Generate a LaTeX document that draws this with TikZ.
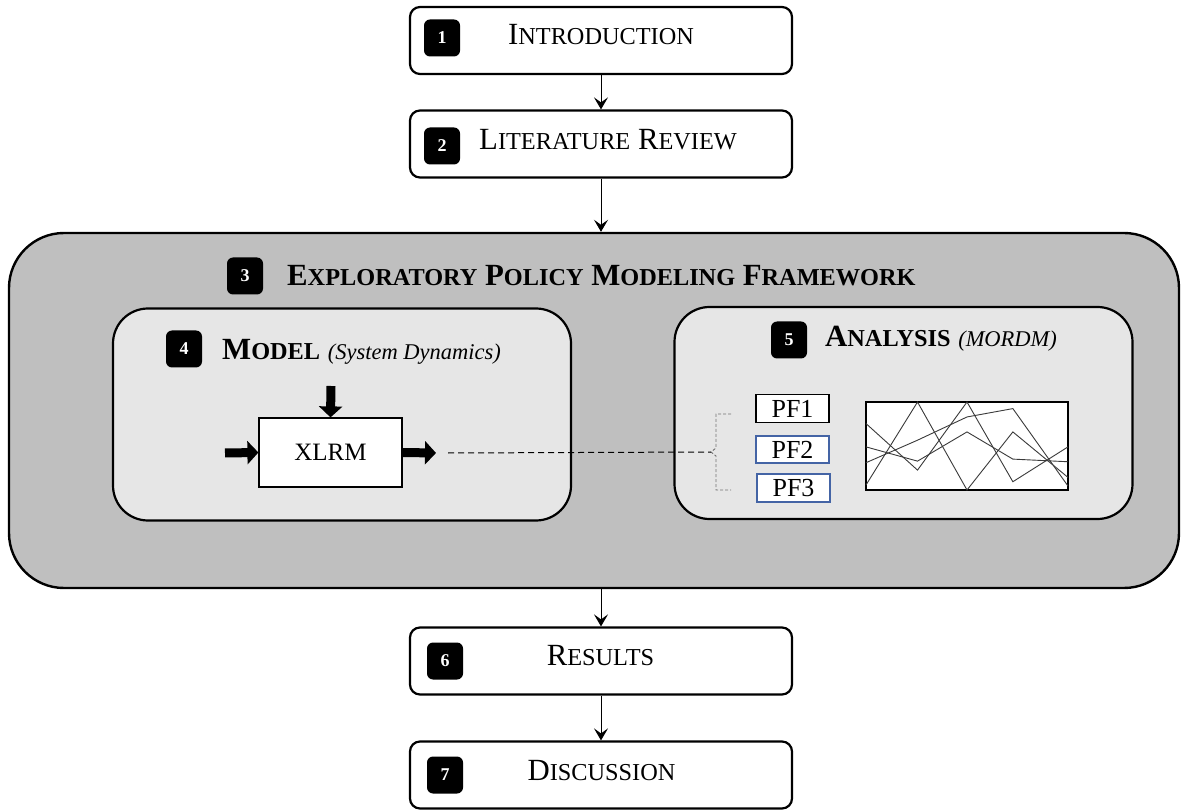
\documentclass[tikz,border=0pt]{standalone}
\usepackage{fontspec}
\setmainfont{Liberation Serif}
\usetikzlibrary{arrows.meta}
\definecolor{framegray}{HTML}{BFBFBF}
\definecolor{panelgray}{HTML}{E6E6E6}
\definecolor{pfblue}{RGB}{68,100,165}
\definecolor{trace}{HTML}{3A3A3A}
% faked small capitals: large initial, smaller upper-case rest
\newcommand\sct[1]{{\fontsize{24.3}{28}\selectfont #1}}
\begin{document}
\begin{tikzpicture}[x=1pt,y=-1pt,
  stage/.style={draw, line width=2.2pt, rounded corners=10pt, fill=white,
    minimum width=382pt, minimum height=67pt, inner sep=0},
  badge/.style={fill=black, rounded corners=6pt, minimum width=36pt,
    minimum height=37pt, inner sep=0, text=white,
    font=\bfseries\fontsize{18}{20}\selectfont},
  heading/.style={inner sep=0, font=\fontsize{30.8}{36}\selectfont},
  panel/.style={draw, line width=2.2pt, rounded corners=35pt, fill=panelgray,
    minimum width=458pt, minimum height=212pt, inner sep=0},
  pfbox/.style={draw, fill=white, minimum width=73pt, minimum height=28pt,
    inner sep=0, font=\fontsize{26}{30}\selectfont},
  flow/.style={line width=1pt, -{Stealth[length=12pt,width=14pt,inset=5pt]}},
  fat/.style={line width=9pt, -{Triangle[length=11pt,width=23pt]}},
]
\useasboundingbox (0,0) rectangle (1187,810);

% ---- stage 1 and 2 ----
\node[stage] (intro) at (601,40.5) {};
\node[badge] (b1) at (442,38) {1};
\node[heading, anchor=base] (t1) at (601,45) {I\sct{NTRODUCTION}};

\node[stage] (lit) at (601,144) {};
\node[badge] (b2) at (442,146) {2};
\node[heading, anchor=base] (t2) at (608,150) {L\sct{ITERATURE} R\sct{EVIEW}};

% ---- framework ----
\node[draw, line width=2.4pt, rounded corners=55pt, fill=framegray,
      minimum width=1170pt, minimum height=355pt, inner sep=0] (frame) at (594,410.5) {};
\node[badge] (b3) at (245,276) {3};
\node[heading, anchor=base west, font=\bfseries\fontsize{30.8}{36}\selectfont] (t3) at (287,286)
  {E\sct{XPLORATORY} P\sct{OLICY} M\sct{ODELING} F\sct{RAMEWORK}};

% ---- model panel ----
\node[panel] (model) at (342,414.5) {};
\node[badge] (b4) at (184,349) {4};
\node[heading, anchor=base west] (t4) at (222,360)
  {\textbf{M\sct{ODEL}} {\fontsize{22.5}{26}\selectfont\itshape (System Dynamics)}};
\node[draw, line width=1.2pt, fill=white, minimum width=143pt, minimum height=69pt,
      inner sep=0, font=\fontsize{25}{30}\selectfont] (xlrm) at (330.5,452.5) {XLRM};
\coordinate (inTop) at (331,386);
\coordinate (inLeft) at (225,453);
\coordinate (outRight) at (436,453);
\draw[fat] (inTop) -- (xlrm.north);
\draw[fat] (inLeft) -- (xlrm.west);
\draw[fat] (xlrm.east) -- (outRight);

% ---- analysis panel ----
\node[panel] (analysis) at (903.5,413) {};
\node[badge] (b5) at (789,340) {5};
\node[heading, anchor=base west] (t5) at (825,347)
  {\textbf{A\sct{NALYSIS}} {\fontsize{22.5}{26}\selectfont\itshape (MORDM)}};
\node[pfbox, line width=1.5pt] (pf1) at (792.5,408.5) {PF1};
\node[pfbox, draw=pfblue, line width=1.2pt, minimum height=27pt] (pf2) at (792.5,449.5) {PF2};
\node[pfbox, draw=pfblue, line width=1.2pt] (pf3) at (793.5,488) {PF3};

% grouping brace
\coordinate (braceTop) at (731,414);
\coordinate (braceTip) at (711,452);
\coordinate (braceBot) at (731,490);
\draw[black!55, line width=0.9pt, dash pattern=on 3pt off 2pt]
  (braceTop) -- (716,414) -- (716,448) -- (braceTip) -- (716,456) -- (716,490) -- (braceBot);

% link from the model output to the performance functions
\coordinate (linkStart) at (448,453);
\draw[line width=1pt, dash pattern=on 6pt off 4pt] (linkStart) -- (braceTip);

% parallel-coordinates chart
\node[draw, line width=1.8pt, fill=white, minimum width=202pt, minimum height=88pt,
      inner sep=0] (chart) at (967,446) {};
\begin{scope}[shift={(866,402)}, x=202pt, y=-88pt]
  \draw[trace, line width=0.9pt] (0,0.943) -- (0.255,0) -- (0.5,1) -- (0.727,0.34) -- (1,0.857);
  \draw[trace, line width=0.9pt] (0,0.245) -- (0.255,0.774) -- (0.5,0) -- (0.727,0.906) -- (1,0.51);
  \draw[trace, line width=0.9pt] (0,0.51) -- (0.255,0.672) -- (0.5,0.34) -- (0.727,0.649) -- (1,0.679);
  \draw[trace, line width=0.9pt] (0,0.69) -- (0.255,0.434) -- (0.5,0.17) -- (0.727,0.075) -- (1,0.955);
\end{scope}

% ---- stage 6 and 7 ----
\node[stage] (res) at (601,661) {};
\node[badge] (b6) at (445,661) {6};
\node[heading, anchor=base] (t6) at (600.5,665) {R\sct{ESULTS}};

\node[stage] (disc) at (601,775) {};
\node[badge] (b7) at (445,775) {7};
\node[heading, anchor=base] (t7) at (601.5,780) {D\sct{ISCUSSION}};

% ---- sequence connectors ----
\draw[flow] (intro.south) -- (lit.north);
\draw[flow] (lit.south) -- (lit.south |- frame.north);
\draw[flow] (res.north |- frame.south) -- (res.north);
\draw[flow] (res.south) -- (disc.north);
\end{tikzpicture}
\end{document}
